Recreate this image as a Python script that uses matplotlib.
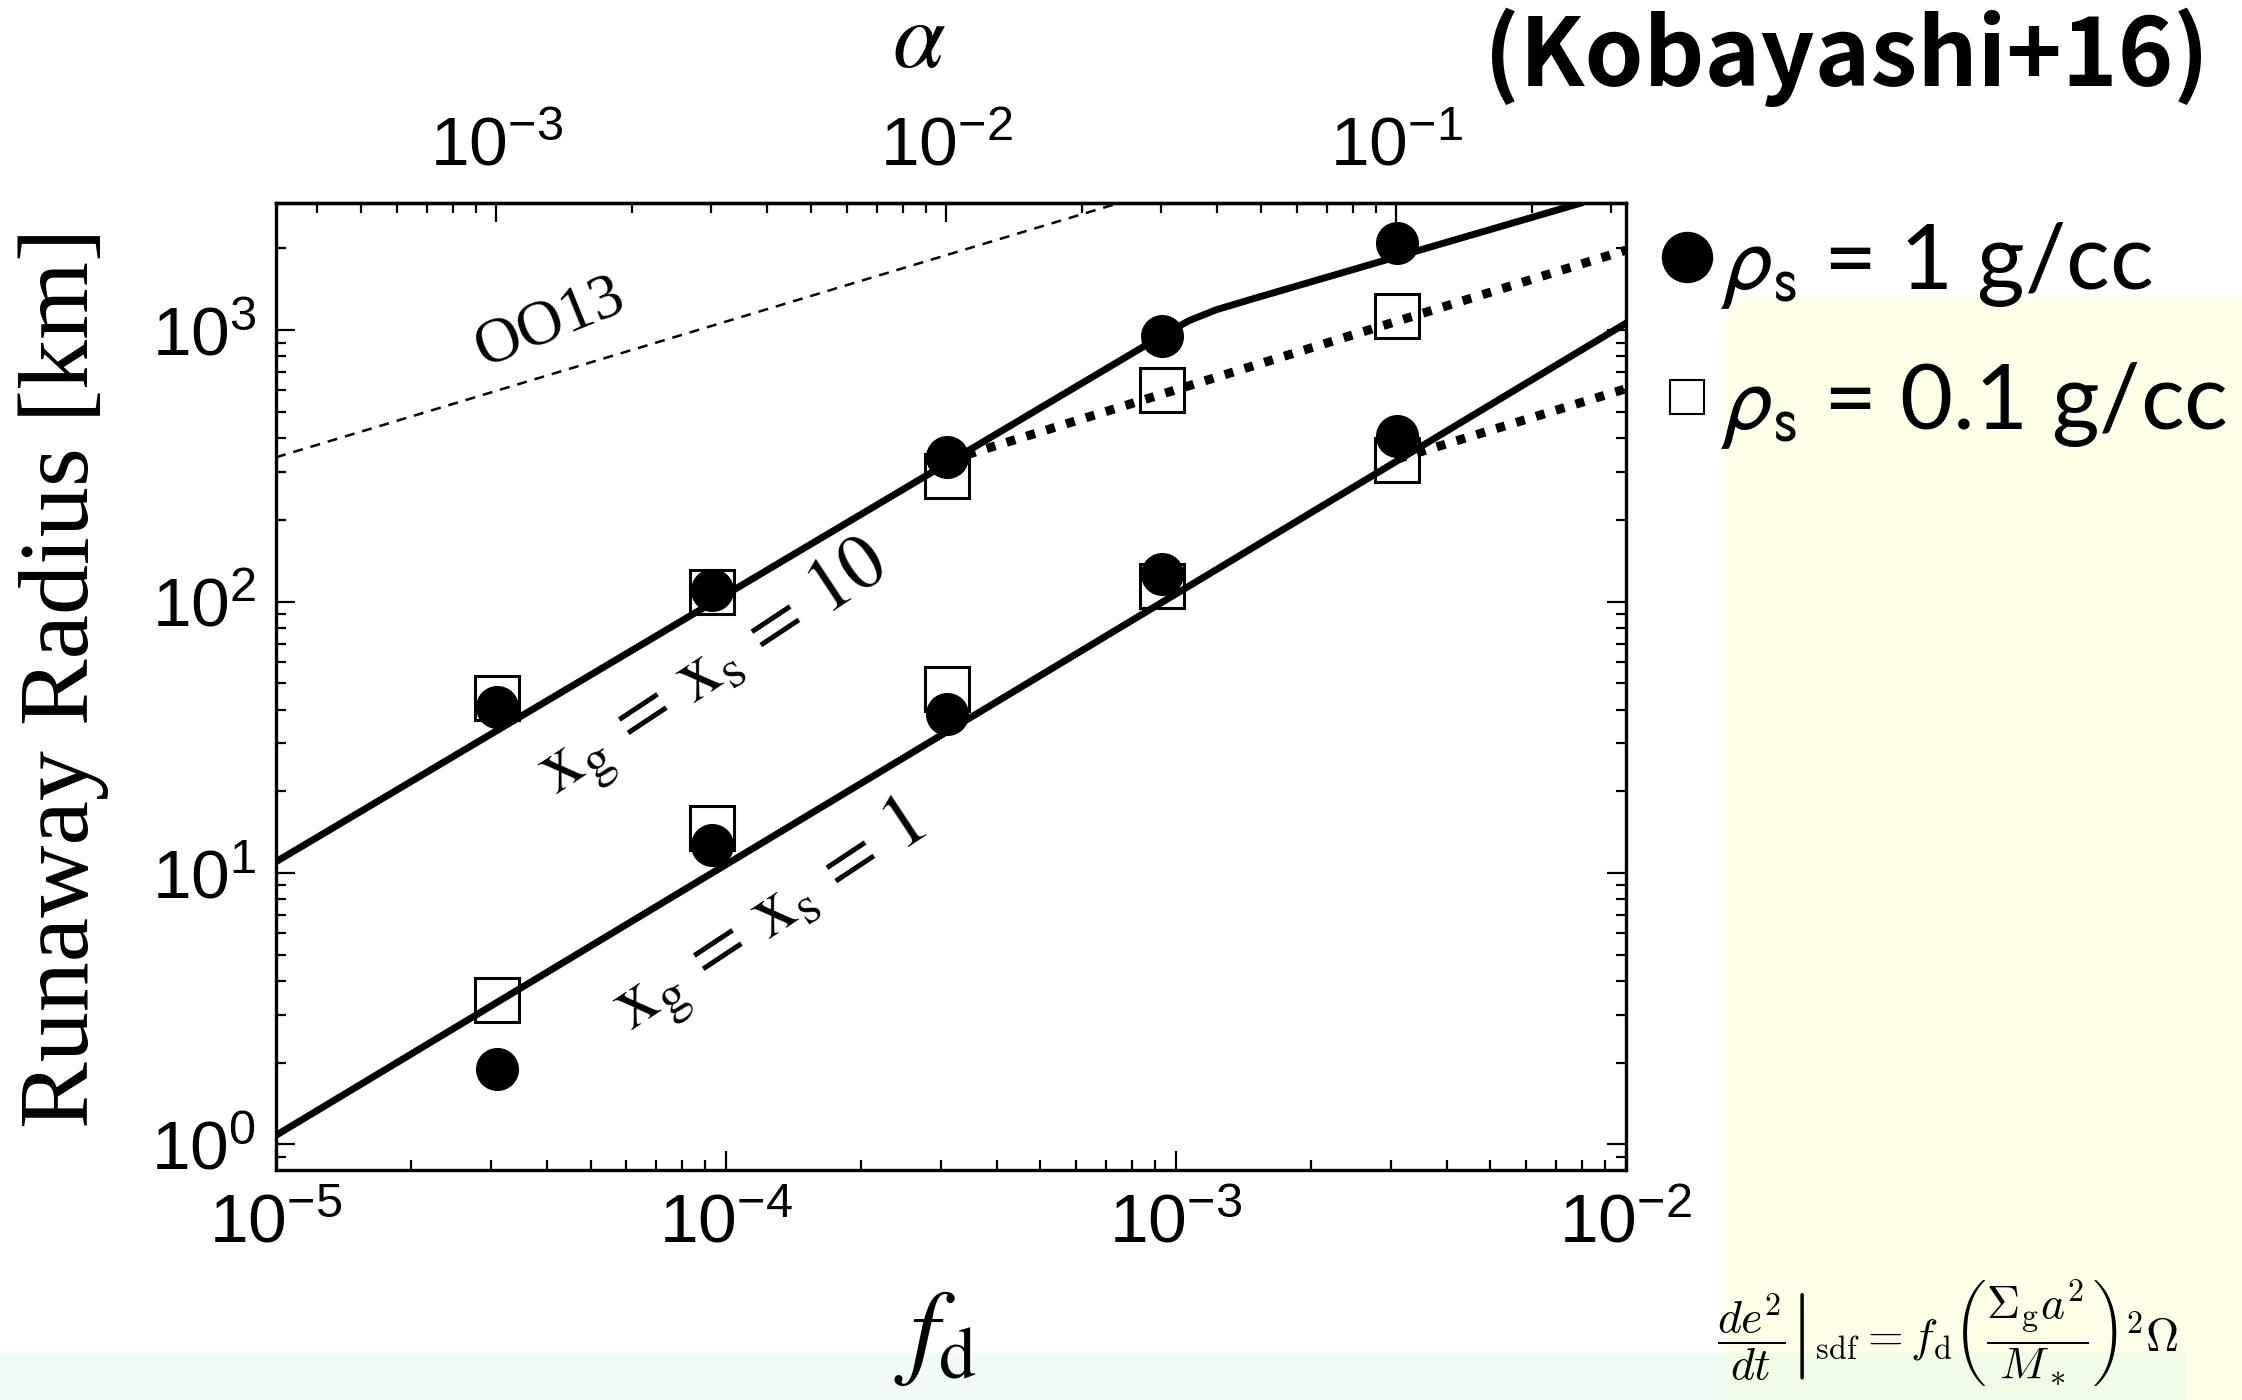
import matplotlib
matplotlib.use('Agg')
import matplotlib.pyplot as plt
from matplotlib.patches import Rectangle
from matplotlib.lines import Line2D
from matplotlib.font_manager import FontProperties
from matplotlib.ticker import LogLocator, NullFormatter, FixedLocator, LogFormatterSciNotation

plt.rcParams.update({
    'font.family': ['Liberation Sans', 'DejaVu Sans'],
    'mathtext.fontset': 'custom',
    'mathtext.rm': 'Liberation Sans',
    'mathtext.it': 'Liberation Sans:italic',
    'mathtext.bf': 'Liberation Sans:bold',
})

# ---------------- data ----------------
fd_sim = [3.1e-5, 9.3e-5, 3.1e-4, 9.3e-4, 3.1e-3]
r_x10_rho1 = [41, 110, 340, 953, 2090]
r_x10_rho01 = [44, 108, 290, 601, 1130]
r_x1_rho1 = [1.9, 12.7, 38.4, 126, 408]
r_x1_rho01 = [3.4, 14.6, 47.8, 114, 332]

fd_x10_model = [1e-5, 9.3e-4, 1.07e-3, 1.23e-3, 1.48e-3, 7.9e-3]
r_x10_model = [11, 953, 1084, 1189, 1303, 2930]
fd_x1_model = [1e-5, 1e-2]
r_x1_model = [1.08, 1060]
fd_x10_low = [3.1e-4, 1e-2]
r_x10_low = [330, 1970]
fd_x1_low = [3.1e-3, 1e-2]
r_x1_low = [335, 608]
fd_oo13 = [1e-5, 1e-2]
r_oo13 = [340, 10750]

xticks_fd = [1e-5, 1e-4, 1e-3, 1e-2]
yticks_r = [1, 10, 100, 1000]
xticks_alpha = [1e-3, 1e-2, 1e-1]
alpha_per_fd = 10 ** 1.51

legend_labels = [r'$\rho_{\rm s}$ = 1 g/cc', r'$\rho_{\rm s}$ = 0.1 g/cc']

# ---------------- figure ----------------
fig = plt.figure(figsize=(22.42, 14), dpi=100)
fig.patches.append(Rectangle((0.7698, 0), 0.2302, 0.787, transform=fig.transFigure,
                             facecolor='#FFFFE8', edgecolor='none', zorder=0))
fig.patches.append(Rectangle((0, 0), 0.7698, 0.0336, transform=fig.transFigure,
                             facecolor='#F2FCF7', edgecolor='none', zorder=0))
fig.patches.append(Rectangle((0.7698, 0), 0.975 - 0.7698, 0.0336, transform=fig.transFigure,
                             facecolor='#F1FCE7', edgecolor='none', zorder=0))

ax = fig.add_axes([0.1231, 0.1643, 0.6021, 0.6907])
ax.set_xscale('log')
ax.set_yscale('log')
ax.set_xlim(1e-5, 1e-2)
ax.set_ylim(0.805, 2940)

ax.plot(fd_oo13, r_oo13, color='k', lw=1.8, linestyle=(0, (4, 3.2)), zorder=2)
ax.plot(fd_x10_model, r_x10_model, color='k', lw=5, solid_joinstyle='round', zorder=2)
ax.plot(fd_x1_model, r_x1_model, color='k', lw=5, zorder=2)
ax.plot(fd_x10_low, r_x10_low, color='k', lw=6.5, linestyle=(0, (1, 1.3)), dash_capstyle='butt', zorder=2)
ax.plot(fd_x1_low, r_x1_low, color='k', lw=6.5, linestyle=(0, (1, 1.3)), dash_capstyle='butt', zorder=2)

ax.plot(fd_sim, r_x10_rho01, ls='none', marker='s', ms=31, mfc='none', mec='k', mew=2.2, zorder=3)
ax.plot(fd_sim, r_x1_rho01, ls='none', marker='s', ms=31, mfc='none', mec='k', mew=2.2, zorder=3)
ax.plot(fd_sim, r_x10_rho1, ls='none', marker='o', ms=30, color='k', zorder=4)
ax.plot(fd_sim, r_x1_rho1, ls='none', marker='o', ms=30, color='k', zorder=4)

ax.xaxis.set_major_locator(FixedLocator(xticks_fd))
ax.yaxis.set_major_locator(FixedLocator(yticks_r))
ax.xaxis.set_major_formatter(LogFormatterSciNotation())
ax.yaxis.set_major_formatter(LogFormatterSciNotation())
ax.xaxis.set_minor_locator(LogLocator(base=10, subs=range(2, 10), numticks=20))
ax.yaxis.set_minor_locator(LogLocator(base=10, subs=range(2, 10), numticks=20))
ax.xaxis.set_minor_formatter(NullFormatter())
ax.yaxis.set_minor_formatter(NullFormatter())
ax.tick_params(which='both', direction='in', top=False, right=True, labelsize=50, width=1.6)
ax.tick_params(which='major', length=14)
ax.tick_params(which='minor', length=7)
ax.tick_params(axis='x', pad=16)
ax.tick_params(axis='y', pad=14)
for s in ax.spines.values():
    s.set_linewidth(2.4)

secax = ax.secondary_xaxis('top', functions=(lambda x: x * alpha_per_fd, lambda a: a / alpha_per_fd))
secax.xaxis.set_major_locator(FixedLocator(xticks_alpha))
secax.xaxis.set_major_formatter(LogFormatterSciNotation())
secax.xaxis.set_minor_locator(LogLocator(base=10, subs=range(2, 10), numticks=20))
secax.xaxis.set_minor_formatter(NullFormatter())
secax.tick_params(which='both', direction='in', labelsize=50, width=1.6, pad=17)
secax.tick_params(which='major', length=14)
secax.tick_params(which='minor', length=7)
secax.spines['top'].set_linewidth(2.4)

# labels
fig.text(64 / 2242, 1 - 678 / 1400, 'Runaway Radius [km]', rotation=90, ha='center', va='center',
         family='Liberation Serif', fontsize=72)
fig.text(936 / 2242, 1 - 1338 / 1400, r'$f_{\rm d}$', math_fontfamily='stix', fontsize=76,
         ha='center', va='center')
fig.text(919 / 2242, 1 - 43 / 1400, r'$\alpha$', math_fontfamily='stix', fontsize=68,
         ha='center', va='center')
fig.text(1847 / 2242, 1 - 57 / 1400, '(Kobayashi+16)', family='Noto Sans CJK JP', weight='bold',
         fontsize=68, ha='center', va='center')

ax.text(0.325, 0.515, r'$\mathrm{x}_{\mathrm{g}}\,=\,\mathrm{x}_{\mathrm{s}}\,=\,10$', transform=ax.transAxes,
        rotation=33.5, math_fontfamily='stix', fontsize=56, ha='center', va='center', rotation_mode='anchor')
ax.text(0.367, 0.258, r'$\mathrm{x}_{\mathrm{g}}\,=\,\mathrm{x}_{\mathrm{s}}\,=\,1$', transform=ax.transAxes,
        rotation=33.5, math_fontfamily='stix', fontsize=56, ha='center', va='center', rotation_mode='anchor')
ax.text(0.203, 0.875, 'OO13', transform=ax.transAxes, rotation=22, family='Liberation Serif',
        fontsize=46, ha='center', va='center', rotation_mode='anchor')

fig.text(1948 / 2242, 1 - 1352 / 1400,
         r'$\left.\dfrac{de^2}{dt}\right|_{\rm sdf} = f_{\rm d}\left(\dfrac{\Sigma_{\rm g}a^2}{M_*}\right)^2\Omega$',
         math_fontfamily='cm', fontsize=33, ha='center', va='baseline')

h1 = Line2D([], [], ls='none', marker='o', ms=36, color='k')
h2 = Line2D([], [], ls='none', marker='s', ms=25, mfc='none', mec='k', mew=1.5)
fig.legend([h1, h2], legend_labels, loc='upper left', bbox_to_anchor=(0.7413, 0.843),
           frameon=False,
           prop=FontProperties(family='Lato', size=66, math_fontfamily='stixsans'),
           handlelength=0.55, handletextpad=0.08, labelspacing=0.54, borderpad=0, borderaxespad=0)

fig.savefig('out.png', dpi=100)
